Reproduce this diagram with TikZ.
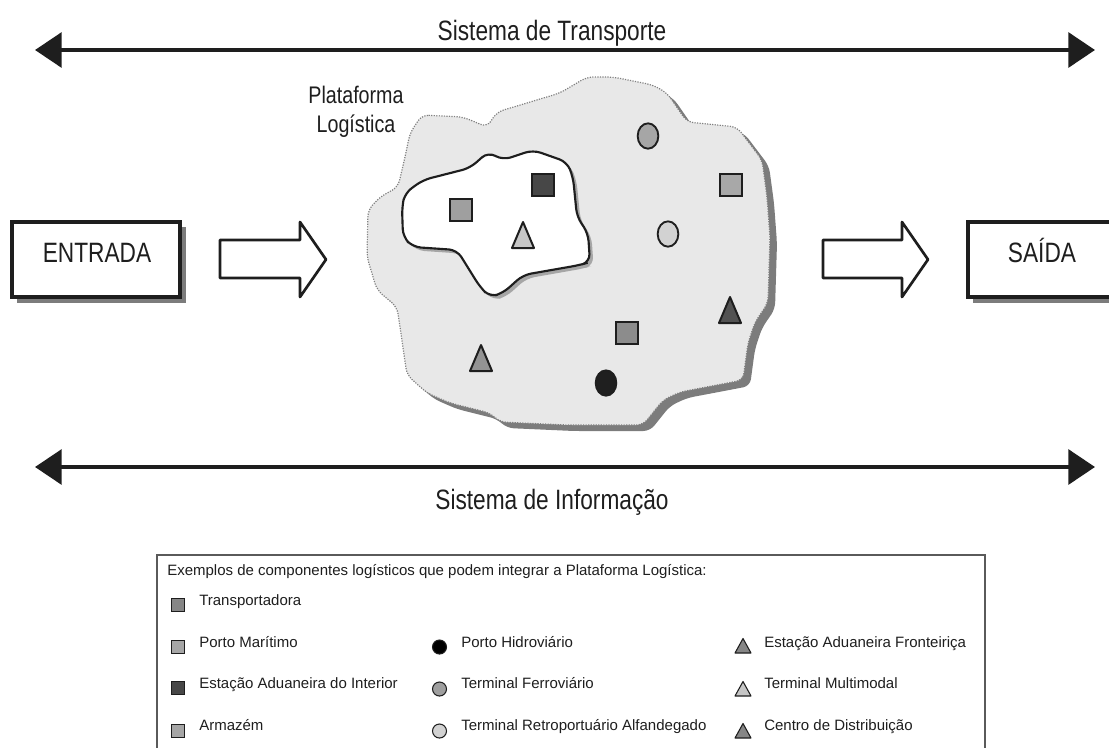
\documentclass[tikz,border=0pt]{standalone}
\usepackage{fontspec}
\setmainfont{Liberation Sans}
\usepackage{graphicx}
\usetikzlibrary{arrows.meta,shapes.geometric}

\definecolor{ink}{HTML}{1E1E1E}
\definecolor{blobfill}{HTML}{E8E8E8}
\definecolor{blobshade}{HTML}{7C7C7C}
\definecolor{frame}{HTML}{5A5A5A}

\newcommand{\narrow}[1]{\scalebox{0.81}[1]{#1}}

\begin{document}
\begin{tikzpicture}[x=0.75pt,y=-0.75pt,
  sysline/.style={line width=3.2pt, draw=ink,
    {Triangle[length=20pt,width=26pt]}-{Triangle[length=20pt,width=26pt]}},
  headtxt/.style={font=\fontsize{21}{24}\selectfont, text=ink, inner sep=0pt, anchor=base},
  boxtxt/.style={font=\fontsize{21}{24}\selectfont, text=ink, inner sep=0pt, anchor=base},
  plattxt/.style={font=\fontsize{18}{21.75}\selectfont, text=ink, inner sep=0pt, align=center},
  iobox/.style={draw=ink, line width=2.3pt, fill=white},
  ioshade/.style={fill=blobshade, draw=none},
  blockarrow/.style={draw=ink, line width=2pt, fill=white, line join=round},
  sqmark/.style={rectangle, draw=ink, line width=1.6pt, minimum size=16.5pt, inner sep=0pt},
  elmark/.style={ellipse, draw=ink, line width=1.4pt, minimum width=15.5pt, minimum height=19pt, inner sep=0pt},
  legtxt/.style={font=\fontsize{11.25}{13}\selectfont, text=ink, inner sep=0pt, anchor=base west},
  legsq/.style={rectangle, draw=ink, line width=0.8pt, minimum size=10pt, inner sep=0pt},
  legci/.style={circle, draw=ink, line width=0.8pt, minimum size=10.5pt, inner sep=0pt},
  tri/.pic={\draw[line width=1.5pt, line join=round, draw=ink, pic actions]
             (-11,13) -- (11,13) -- (0,-13) -- cycle;},
  ltri/.pic={\draw[line width=0.8pt, line join=round, draw=ink, pic actions]
             (-8,7) -- (8,7) -- (0,-7.5) -- cycle;}
]
\useasboundingbox (0,0) rectangle (1109,747);
\clip (0,0) rectangle (1109,747);

% --- transport and information systems -------------------------------
\coordinate (tl) at (35,50);
\coordinate (tr) at (1095,50);
\draw[sysline] (tl) -- (tr);
\node[headtxt] (ttrans) at (552,40) {\narrow{Sistema de Transporte}};

\coordinate (bl) at (35,467);
\coordinate (br) at (1095,467);
\draw[sysline] (bl) -- (br);
\node[headtxt] (tinfo) at (552,509) {\narrow{Sistema de Informação}};

% --- input and output boxes -------------------------------------------
\fill[ioshade] (17,227) rectangle (186,303);
\draw[iobox] (12,222) rectangle (180,297);
\node[boxtxt] (entrada) at (97,262) {\narrow{ENTRADA}};

\fill[ioshade] (973,227) rectangle (1130,303);
\draw[iobox] (968,222) rectangle (1125,297);
\node[boxtxt] (saida) at (1042,262) {\narrow{SAÍDA}};

% --- block arrows -----------------------------------------------------
\draw[blockarrow] (220,240) -- (300,240) -- (300,222) -- (326,259.5)
  -- (300,297) -- (300,278) -- (220,278) -- cycle;
\draw[blockarrow] (823,240) -- (902,240) -- (902,222) -- (928,259.5)
  -- (902,297) -- (902,278) -- (823,278) -- cycle;

% --- logistics platform -----------------------------------------------
\def\outerblob{(422,115) -- (463,117) -- (487,127) -- (497,112) -- (560,93)
  -- (587,77) -- (613,77) -- (653,85) -- (667,93) -- (687,122) -- (737,127)
  -- (762,160) -- (767,197) -- (770,237) -- (768,303) -- (755,322)
  -- (748,343) -- (743,380) -- (717,385) -- (680,392) -- (663,400)
  -- (643,425) -- (567,425) -- (500,422) -- (490,413) -- (450,403)
  -- (427,393) -- (407,375) -- (400,327) -- (397,307) -- (377,290)
  -- (367,257) -- (368,210) -- (380,197) -- (398,187) -- (405,157)
  -- (410,133) -- cycle}
\fill[blobshade, rounded corners=5pt, shift={(7,6)}] \outerblob;
\filldraw[fill=blobfill, draw=gray, densely dotted, line width=0.9pt,
  rounded corners=5pt] \outerblob;

\def\innerblob{(405,193) -- (423,180) -- (470,168) -- (488,152) -- (503,160)
  -- (533,150) -- (567,162) -- (573,177) -- (577,217) -- (588,233)
  -- (590,262) -- (580,265) -- (523,275) -- (503,293) -- (490,297)
  -- (480,287) -- (457,250) -- (413,247) -- (403,237) -- (402,207) -- cycle}
\fill[gray!70, rounded corners=6pt, shift={(3.5,3.5)}] \innerblob;
\filldraw[fill=white, draw=ink, line width=1.6pt, rounded corners=6pt] \innerblob;

\node[plattxt] (plat) at (356,112) {\scalebox{0.82}[1]{Plataforma}\\\scalebox{0.82}[1]{Logística}};

% components inside the platform
\node[sqmark, fill=gray!75] (m1) at (461,210) {};
\node[sqmark, fill=black!72] (m2) at (543,185) {};
\pic[fill=gray!45] at (523,235) {tri};
\node[elmark, fill=gray!70] (m4) at (648,136) {};
\node[sqmark, fill=gray!68] (m5) at (731,185) {};
\node[elmark, fill=gray!35] (m6) at (668,234) {};
\pic[fill=black!68] at (730,310) {tri};
\node[sqmark, fill=gray!90] (m8) at (627,333) {};
\pic[fill=gray!85] at (481,358) {tri};
\node[elmark, fill=black!88] (m10) at (606,383) {};

% --- legend -----------------------------------------------------------
\draw[frame, line width=1.3pt] (157,790) -- (157,555) -- (985,555) -- (985,790);
\node[legtxt] (lt) at (167,575) {Exemplos de componentes logísticos que podem integrar a Plataforma Logística:};

\node[legsq, fill=gray!95] (k1) at (178,605) {};
\node[legtxt] (l1) at (199,605) {Transportadora};

\node[legsq, fill=gray!70] (k2) at (178,647) {};
\node[legtxt] (l2) at (199,647) {Porto Marítimo};
\node[legci, fill=black] (k3) at (439.5,647) {};
\node[legtxt] (l3) at (461,647) {Porto Hidroviário};
\pic[fill=gray!95] at (743,646) {ltri};
\node[legtxt] (l4) at (764,647) {Estação Aduaneira Fronteiriça};

\node[legsq, fill=black!72] (k5) at (178,688) {};
\node[legtxt] (l5) at (199,688) {Estação Aduaneira do Interior};
\node[legci, fill=gray!75] (k6) at (439.5,689) {};
\node[legtxt] (l6) at (461,688) {Terminal Ferroviário};
\pic[fill=gray!45] at (743,689) {ltri};
\node[legtxt] (l7) at (764,688) {Terminal Multimodal};

\node[legsq, fill=gray!70] (k8) at (178,731) {};
\node[legtxt] (l8) at (199,730) {Armazém};
\node[legci, fill=gray!35] (k9) at (439.5,731) {};
\node[legtxt] (l9) at (461,730) {Terminal Retroportuário Alfandegado};
\pic[fill=gray!95] at (743,731) {ltri};
\node[legtxt] (l10) at (764,730) {Centro de Distribuição};
\end{tikzpicture}
\end{document}
